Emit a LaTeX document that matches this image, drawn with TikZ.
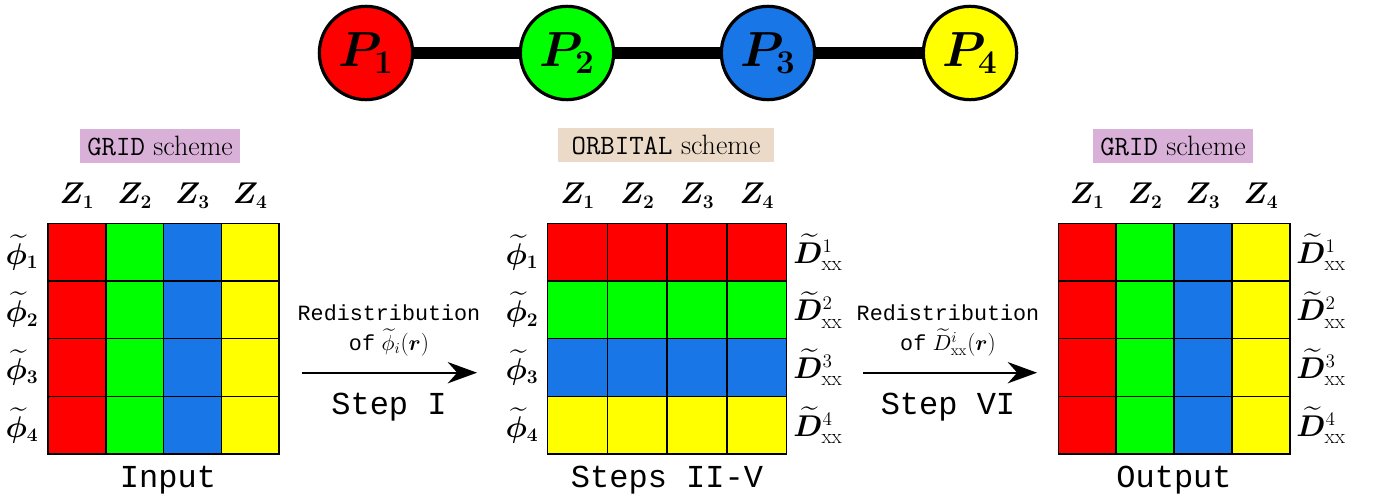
\documentclass[tikz,border=0pt]{standalone}
\usepackage{fontspec}
\usepackage{amsmath,bm}
\DeclareFontShape{OML}{cmm}{m}{it}{<->cmmi10}{}
\DeclareFontShape{OML}{cmm}{b}{it}{<->cmmib10}{}
\DeclareFontShape{OMS}{cmsy}{m}{n}{<->cmsy10}{}
\DeclareFontShape{OMS}{cmsy}{b}{n}{<->cmbsy10}{}
\DeclareFontShape{OMX}{cmex}{m}{n}{<->cmex10}{}
\newfontfamily\cour{Liberation Mono}
\usetikzlibrary{arrows.meta}
\definecolor{cR}{RGB}{255,0,0}
\definecolor{cG}{RGB}{0,255,0}
\definecolor{cB}{RGB}{25,118,230}
\definecolor{cY}{RGB}{255,255,0}
\definecolor{lilac}{RGB}{216,176,216}
\definecolor{beige}{RGB}{236,218,200}
\begin{document}
\begin{tikzpicture}[x=0.75pt,y=-0.75pt,
  proc/.style={circle,draw=black,line width=2.4pt,minimum size=70pt,inner sep=0pt,font=\fontsize{37}{40}\selectfont},
  link/.style={line width=9pt},
  cell/.style={draw=black,line width=1.1pt},
  lab/.style={font=\fontsize{22.5}{26}\selectfont,inner sep=0pt},
  hdr/.style={font=\fontsize{21}{24}\selectfont,inner sep=0pt,minimum height=25.5pt,anchor=center},
  redis/.style={font=\fontsize{16.3}{20}\selectfont,inner sep=0pt,anchor=base},
  big/.style={font=\fontsize{24}{28}\selectfont\cour,inner sep=0pt,anchor=base},
  flow/.style={line width=1.5pt,-{Stealth[length=22pt,width=16pt]}}
]
\useasboundingbox (0,0) rectangle (1378,496);

% processes
\node[proc,fill=cR] (p1) at (366,53) {$\bm{P_1}$};
\node[proc,fill=cG] (p2) at (567,53) {$\bm{P_2}$};
\node[proc,fill=cB] (p3) at (768,53) {$\bm{P_3}$};
\node[proc,fill=cY] (p4) at (970,53) {$\bm{P_4}$};
\draw[link] (p1) -- (p2);
\draw[link] (p2) -- (p3);
\draw[link] (p3) -- (p4);

% headers
\node[hdr,fill=lilac,minimum width=120pt] (h1) at (160,145.5) {\texttt{GRID} scheme};
\node[hdr,fill=beige,minimum width=162pt] (h2) at (666,145.3) {\texttt{ORBITAL} scheme};
\node[hdr,fill=lilac,minimum width=120pt] (h3) at (1173,145.5) {\texttt{GRID} scheme};

% left grid (columns coloured)
\foreach \c/\col in {1/cR,2/cG,3/cB,4/cY}{
  \foreach \r in {1,...,4}{
    \filldraw[cell,fill=\col] ({48+(\c-1)*57.8},{223.3+(\r-1)*57.7}) rectangle ++(57.8,57.7);
  }
  \node[lab,anchor=base] (zl\c) at ({48+(\c-0.5)*57.8},203.5) {$\bm{Z_{\c}}$};
}
% middle grid (rows coloured)
\foreach \r/\col in {1/cR,2/cG,3/cB,4/cY}{
  \foreach \c in {1,...,4}{
    \filldraw[cell,fill=\col] ({547.7+(\c-1)*59.75},{223.3+(\r-1)*57.7}) rectangle ++(59.75,57.7);
  }
}
\foreach \c in {1,...,4}{
  \node[lab,anchor=base] (zm\c) at ({547.7+(\c-0.5)*59.75},203.5) {$\bm{Z_{\c}}$};
}
% right grid (columns coloured)
\foreach \c/\col in {1/cR,2/cG,3/cB,4/cY}{
  \foreach \r in {1,...,4}{
    \filldraw[cell,fill=\col] ({1058.3+(\c-1)*57.9},{223.3+(\r-1)*57.7}) rectangle ++(57.9,57.7);
  }
  \node[lab,anchor=base] (zr\c) at ({1058.3+(\c-0.5)*57.9},203.5) {$\bm{Z_{\c}}$};
}

% row labels
\foreach \r in {1,...,4}{
  \node[lab] (fl\r) at (22,{223.3+(\r-0.5)*57.7}) {$\widetilde{\bm\phi}_{\bm{\r}}$};
  \node[lab] (fm\r) at (522,{223.3+(\r-0.5)*57.7}) {$\widetilde{\bm\phi}_{\bm{\r}}$};
  \node[lab] (dm\r) at (818,{223.3+(\r-0.5)*57.7}) {$\widetilde{\bm D}^{\r}_{\mathrm{xx}}$};
  \node[lab] (dr\r) at (1321,{223.3+(\r-0.5)*57.7}) {$\widetilde{\bm D}^{\r}_{\mathrm{xx}}$};
}

% bottom labels
\node[big] (in) at (168,487) {Input};
\node[big] (st) at (667,487) {Steps II-V};
\node[big] (out) at (1174,487) {Output};

% step I
\coordinate (a1s) at (302,372.7);
\coordinate (a1e) at (477,372.7);
\draw[flow] (a1s) -- (a1e);
\node[redis] (r1a) at (389,320) {\cour Redistribution};
\node[redis] (r1b) at (389,350) {{\cour of} $\widetilde{\phi}_i(\bm r)$};
\node[big] (s1) at (389,414) {Step I};

% step VI
\coordinate (a2s) at (863,372.7);
\coordinate (a2e) at (1037,372.7);
\draw[flow] (a2s) -- (a2e);
\node[redis] (r2a) at (948,320) {\cour Redistribution};
\node[redis] (r2b) at (948,350) {{\cour of} $\widetilde{D}^{i}_{\mathrm{xx}}(\bm r)$};
\node[big] (s2) at (948,414) {Step VI};
\end{tikzpicture}
\end{document}
